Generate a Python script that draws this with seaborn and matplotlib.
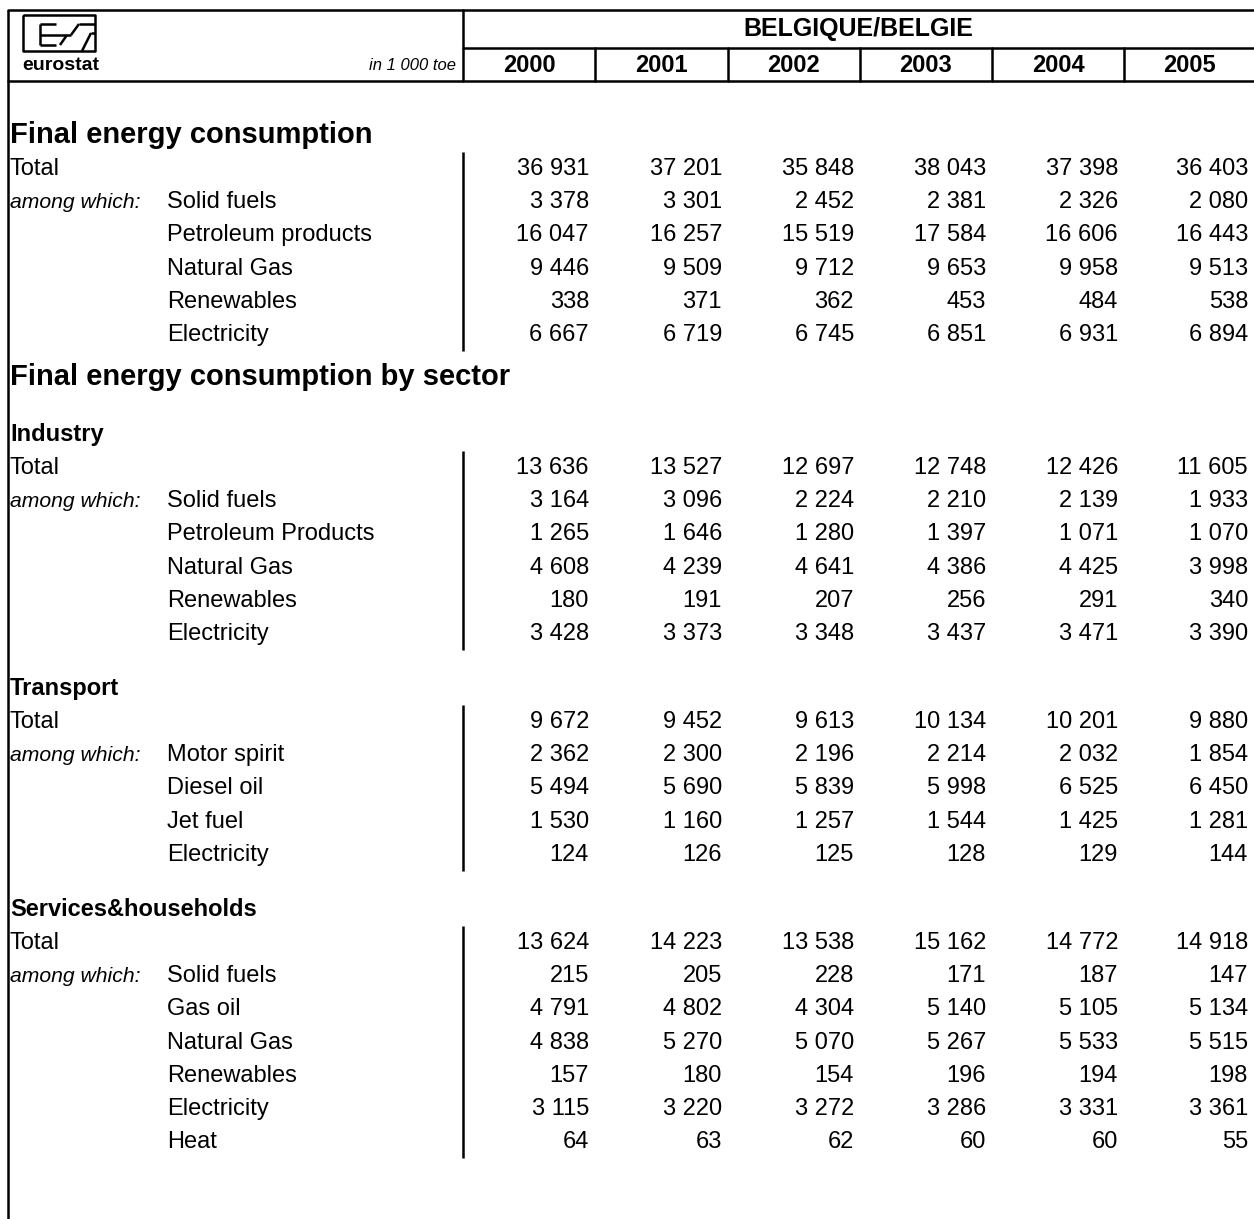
import matplotlib
matplotlib.use("Agg")
import matplotlib.pyplot as plt
import seaborn as sns

# table content
country = "BELGIQUE/BELGIE"
unit = "in 1 000 toe"
years = ["2000", "2001", "2002", "2003", "2004", "2005"]

fec_labels = ["Solid fuels", "Petroleum products", "Natural Gas", "Renewables", "Electricity"]
fec_total = [36931, 37201, 35848, 38043, 37398, 36403]
fec_values = [
    [3378, 3301, 2452, 2381, 2326, 2080],
    [16047, 16257, 15519, 17584, 16606, 16443],
    [9446, 9509, 9712, 9653, 9958, 9513],
    [338, 371, 362, 453, 484, 538],
    [6667, 6719, 6745, 6851, 6931, 6894],
]

ind_labels = ["Solid fuels", "Petroleum Products", "Natural Gas", "Renewables", "Electricity"]
ind_total = [13636, 13527, 12697, 12748, 12426, 11605]
ind_values = [
    [3164, 3096, 2224, 2210, 2139, 1933],
    [1265, 1646, 1280, 1397, 1071, 1070],
    [4608, 4239, 4641, 4386, 4425, 3998],
    [180, 191, 207, 256, 291, 340],
    [3428, 3373, 3348, 3437, 3471, 3390],
]

tra_labels = ["Motor spirit", "Diesel oil", "Jet fuel", "Electricity"]
tra_total = [9672, 9452, 9613, 10134, 10201, 9880]
tra_values = [
    [2362, 2300, 2196, 2214, 2032, 1854],
    [5494, 5690, 5839, 5998, 6525, 6450],
    [1530, 1160, 1257, 1544, 1425, 1281],
    [124, 126, 125, 128, 129, 144],
]

ser_labels = ["Solid fuels", "Gas oil", "Natural Gas", "Renewables", "Electricity", "Heat"]
ser_total = [13624, 14223, 13538, 15162, 14772, 14918]
ser_values = [
    [215, 205, 228, 171, 187, 147],
    [4791, 4802, 4304, 5140, 5105, 5134],
    [4838, 5270, 5070, 5267, 5533, 5515],
    [157, 180, 154, 196, 194, 198],
    [3115, 3220, 3272, 3286, 3331, 3361],
    [64, 63, 62, 60, 60, 55],
]

sns.set_theme(style="white")
plt.rcParams['font.family'] = ['Liberation Sans', 'DejaVu Sans']
plt.rcParams['text.color'] = 'black'

W, H = 1254, 1219
fig = plt.figure(figsize=(W / 100, H / 100), dpi=100)
ax = fig.add_axes([0, 0, 1, 1])
ax.set_xlim(0, W)
ax.set_ylim(H, 0)
ax.axis('off')

LW = 1.8
split_x = 463
col_edges = [463, 595, 728, 860, 992, 1124, 1254]
STEP = 33.2
FS = 17


def fmt(v):
    return f"{v:,}".replace(",", " ")


# frame and header
ax.plot([8, 8], [10, H], color='black', lw=LW, solid_capstyle='butt')
ax.plot([8, W], [10, 10], color='black', lw=LW)
ax.plot([8, W], [81, 81], color='black', lw=LW)
ax.plot([split_x, split_x], [10, 81], color='black', lw=LW)
ax.plot([split_x, W], [48, 48], color='black', lw=LW)
for x in col_edges[1:-1]:
    ax.plot([x, x], [48, 81], color='black', lw=LW)

ax.text((split_x + W) / 2, 29, country, ha='center', va='center',
        fontsize=18, fontweight='bold')
for i, yr in enumerate(years):
    ax.text((col_edges[i] + col_edges[i + 1]) / 2, 65, yr, ha='center',
            va='center', fontsize=17, fontweight='bold')
ax.text(456, 66, unit, ha='right', va='center', fontsize=12, style='italic')

# eurostat logo (rough sketch)
lk = dict(color='black', lw=1.8, solid_capstyle='butt')
ax.plot([23, 95, 95, 23, 23], [15, 15, 51, 51, 15], **lk)
ax.plot([40, 40], [24, 45], **lk)
ax.plot([40, 56], [24, 24], **lk)
ax.plot([40, 71], [35, 35], **lk)
ax.plot([40, 56], [45, 45], **lk)
ax.plot([71, 79], [35, 24], **lk)
ax.plot([79, 95], [24, 24], **lk)
ax.plot([60, 67], [45, 35], **lk)
ax.plot([82, 91], [51, 33], **lk)
ax.plot([91, 95], [33, 33], **lk)
ax.text(61, 66, "eurostat", ha='center', va='center', fontsize=14,
        fontweight='bold')


def block(y_total, labels, total, values):
    rows = [("Total", None, total)] + [(None, lab, v) for lab, v in zip(labels, values)]
    ys = []
    for r, (c1, c2, vals) in enumerate(rows):
        y = y_total + r * STEP
        ys.append(y)
        if c1:
            ax.text(10, y, c1, ha='left', va='center', fontsize=FS)
        if r == 1:
            ax.text(10, y, "among which:", ha='left', va='center',
                    fontsize=15.2, style='italic')
        if c2:
            ax.text(167, y, c2, ha='left', va='center', fontsize=FS)
        for i, v in enumerate(vals):
            ax.text(col_edges[i + 1] - 6, y, fmt(v), ha='right', va='center',
                    fontsize=FS)
    ax.plot([split_x, split_x], [ys[0] - 17, ys[-1] + 16], color='black',
            lw=LW, solid_capstyle='butt')


ax.text(10, 135, "Final energy consumption", ha='left', va='center',
        fontsize=21, fontweight='bold')
block(169, fec_labels, fec_total, fec_values)

ax.text(10, 377, "Final energy consumption by sector", ha='left', va='center',
        fontsize=21, fontweight='bold')

ax.text(10, 434, "Industry", ha='left', va='center', fontsize=FS, fontweight='bold')
block(468, ind_labels, ind_total, ind_values)

ax.text(10, 689, "Transport", ha='left', va='center', fontsize=FS, fontweight='bold')
block(722, tra_labels, tra_total, tra_values)

ax.text(10, 910, "Services&households", ha='left', va='center', fontsize=FS,
        fontweight='bold')
block(943, ser_labels, ser_total, ser_values)

fig.savefig("out.png", dpi=100)
